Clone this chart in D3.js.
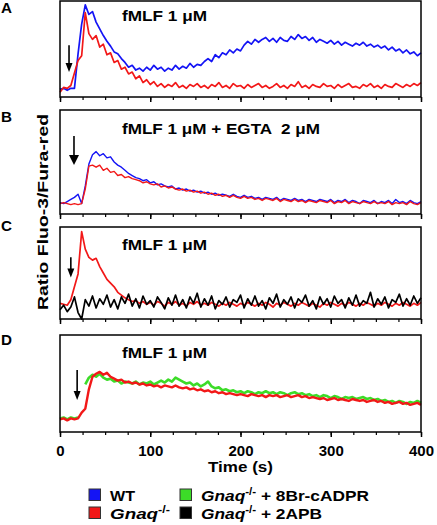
<!DOCTYPE html>
<html><head><meta charset="utf-8">
<script src="https://cdn.jsdelivr.net/npm/d3@7"></script>
<style>
body{margin:0;background:#fff}
svg{display:block}
text{font-family:"Liberation Sans",Arial,Helvetica,sans-serif;font-weight:bold;fill:#000}
</style>
</head><body>
<svg id="c" width="437" height="525"></svg>
<script>
// ---------- DATA ----------
const time = d3.range(0, 401, 4); // sampling grid, seconds
const panelLetters = ["A", "B", "C", "D"];
const panelTitles = ["fMLF 1 \u03bcM", "fMLF 1 \u03bcM + EGTA  2 \u03bcM", "fMLF 1 \u03bcM", "fMLF 1 \u03bcM"];
const xMajorTicks = [0, 100, 200, 300, 400];
const xMinorTicks = [0,25,50,75,100,125,150,175,200,225,250,275,300,325,350,375,400];
const xLabel = "Time (s)";
const yLabel = "Ratio Fluo-3/Fura-red";

// Panel A (relative ratio units, 0-100 of panel range)
const wtA = [8,9,7,9,9,45,76,96,86,89,78,71,64,58,53,47,45,40,36,31,33,28,30,27,31,28,33,29,31,27,30,28,33,29,32,30,35,31,34,33,37,40,37,44,41,46,44,49,46,50,48,54,58,55,60,57,60,62,58,61,57,62,59,58,63,60,65,61,63,59,62,57,60,58,56,59,55,58,54,57,55,53,56,54,57,53,55,52,54,51,53,49,52,48,50,46,49,45,47,43,46];
const gnaqA = [5,10,9,12,25,38,43,88,66,60,64,52,55,44,46,36,38,29,31,24,26,19,22,15,18,13,16,11,14,10,13,11,15,10,12,9,13,11,14,10,12,9,13,11,15,10,12,9,14,11,12,9,13,10,12,14,10,12,9,11,14,10,12,9,13,11,16,10,12,9,13,11,10,14,11,12,9,13,10,12,14,10,11,9,13,11,14,10,12,9,13,11,10,14,12,10,13,11,14,12,15];
// Panel B
const wtB = [11,10,12,14,16,19,10,27,48,57,60,56,58,54,55,50,47,45,42,39,37,35,34,32,33,30,31,28,29,27,26,27,24,25,23,24,22,23,21,22,20,21,19,20,18,19,18,17,19,17,16,18,16,17,15,16,14,16,15,14,16,13,15,14,13,15,13,14,12,14,13,12,14,13,12,14,11,13,12,14,11,13,12,10,13,12,11,13,10,12,11,13,10,14,11,12,10,13,11,10,12];
const gnaqB = [10,11,10,9,10,9,10,24,46,47,45,47,42,44,40,41,37,38,35,36,34,33,32,30,31,29,28,29,26,27,25,26,24,23,24,22,23,21,22,20,21,19,20,18,19,17,18,16,18,16,15,17,15,16,14,15,13,15,14,13,15,12,14,13,12,14,12,13,11,13,12,11,13,12,11,13,10,12,11,13,10,12,11,10,12,11,10,12,10,11,10,12,9,11,10,11,9,12,10,9,11];
// Panel C
const gnaqC = [17,16,15,21,35,49,95,76,67,64,66,57,50,43,39,35,29,26,23,21,19,20,17,19,16,18,15,19,17,14,18,16,19,15,17,14,18,16,19,15,17,15,18,16,14,17,15,18,16,14,17,15,18,16,14,17,15,18,16,13,17,15,18,16,14,17,15,18,16,14,17,15,13,17,15,18,16,14,17,15,18,16,14,17,15,18,16,14,17,15,18,16,14,17,15,18,16,14,17,15,18];
const apbC = [10,15,8,13,24,7,0,21,14,25,12,22,16,26,13,21,11,24,17,27,14,22,12,25,16,20,13,24,18,11,23,15,26,14,21,12,24,17,28,13,22,15,25,11,20,16,24,13,21,18,26,12,22,15,25,14,20,11,23,17,27,13,21,16,24,12,22,18,26,14,20,11,24,16,22,13,25,17,21,12,23,15,26,14,20,17,29,13,22,16,24,12,21,18,27,14,22,15,25,17,23];
// Panel D
const brD = [14,15,13,15,14,15,null,49,56,59,57,60,56,54,55,52,53,50,52,51,50,52,49,51,50,52,49,51,53,51,54,52,56,54,52,50,51,48,50,47,49,52,47,45,46,43,44,42,43,41,42,40,42,41,39,41,40,42,40,41,39,41,40,38,40,41,39,40,38,39,37,38,36,38,37,35,37,36,34,36,35,36,34,35,36,34,35,33,34,32,33,31,32,30,32,31,29,31,30,32,30];
const gnaqD = [13,14,12,14,13,14,20,24,44,57,60,62,59,61,57,55,53,54,51,52,50,51,49,50,48,49,47,48,46,48,47,46,48,46,45,46,44,45,43,44,42,43,41,42,40,41,39,40,39,38,39,38,37,39,38,37,38,36,38,37,38,36,37,38,36,37,38,36,37,35,36,35,34,35,33,34,35,33,34,33,32,34,33,32,33,31,32,33,31,32,30,31,29,30,31,29,30,28,29,30,28];

// Stimulus arrows (time s, from value, to value)
const arrowTime = [10, 15.5, 12, 19];
const arrowFrom = [54, 75, 67, 64];
const arrowTo = [26, 47, 45, 33];

// Legend
const legendColors = ["#1414f5", "#f21818", "#3cdc28", "#000000"];
const legendNames = ["WT", "Gnaq", "Gnaq", "Gnaq"];
const legendSup = ["", "-/-", "-/-", "-/-"];
const legendSuffix = ["", "", " + 8Br-cADPR", " + 2APB"];

// ---------- DRAW ----------
const BLUE = legendColors[0], RED = legendColors[1], GREEN = legendColors[2], BLACK = legendColors[3];
const svg = d3.select("#c");
const x = d3.scaleLinear().domain([0, 400]).range([60, 421]);

const panels = [
  {top: 1, bottom: 97, series: [[wtA, BLUE, 1.7], [gnaqA, RED, 1.7]], titleY: 20.5, titleW: 85, letterY: 13},
  {top: 110, bottom: 214, series: [[wtB, BLUE, 1.4], [gnaqB, RED, 1.4]], titleY: 134, titleW: 198, letterY: 122},
  {top: 227, bottom: 319, series: [[gnaqC, RED, 1.7], [apbC, BLACK, 1.7]], titleY: 250, titleW: 85, letterY: 231},
  {top: 335, bottom: 432, series: [[brD, GREEN, 2.6], [gnaqD, RED, 2.4]], titleY: 358, titleW: 85, letterY: 345}
];

panels.forEach((p, i) => {
  const y = d3.scaleLinear().domain([0, 100]).range([p.bottom, p.top]);
  const g = svg.append("g");

  // series
  p.series.forEach(([vals, col, w]) => {
    const line = d3.line()
      .defined((d, j) => vals[j] !== null)
      .x((d, j) => x(time[j]))
      .y((d, j) => y(vals[j]));
    g.append("path").datum(vals)
      .attr("d", line)
      .attr("fill", "none")
      .attr("stroke", col)
      .attr("stroke-width", w)
      .attr("stroke-linejoin", "round");
  });

  // frame
  g.append("rect")
    .attr("x", x(0)).attr("y", p.top)
    .attr("width", x(400) - x(0)).attr("height", p.bottom - p.top)
    .attr("fill", "none").attr("stroke", "#000").attr("stroke-width", 1.5);

  // ticks
  const minor = d3.axisBottom(x).tickValues(xMinorTicks).tickSize(3).tickSizeOuter(0).tickFormat("");
  const gm = g.append("g").attr("transform", `translate(0,${p.bottom})`).call(minor);
  gm.select(".domain").remove();
  gm.selectAll("line").attr("stroke-width", 1.2);
  const major = d3.axisBottom(x).tickValues(xMajorTicks).tickSize(5).tickSizeOuter(0).tickPadding(8)
    .tickFormat(i === 3 ? d3.format("d") : "");
  const gM = g.append("g").attr("transform", `translate(0,${p.bottom})`).call(major);
  gM.select(".domain").remove();
  gM.selectAll("line").attr("stroke-width", 1.5);
  gM.selectAll("text").attr("font-size", 15).attr("font-family", null).attr("fill", "#000");

  // arrow
  const ax = x(arrowTime[i]), y0 = y(arrowFrom[i]), y1 = y(arrowTo[i]);
  const hw = i === 1 ? 5 : 3.5, hl = i === 1 ? 10 : 9;
  g.append("line").attr("x1", ax).attr("x2", ax).attr("y1", y0).attr("y2", y1 - hl + 1)
    .attr("stroke", "#000").attr("stroke-width", 1.6);
  g.append("path")
    .attr("d", `M${ax - hw},${y1 - hl}L${ax + hw},${y1 - hl}L${ax},${y1}Z`)
    .attr("fill", "#000");

  // title
  g.append("text").attr("x", 122).attr("y", p.titleY)
    .attr("font-size", 14).style("white-space", "pre")
    .attr("textLength", p.titleW).attr("lengthAdjust", "spacingAndGlyphs")
    .text(panelTitles[i]);

  // letter
  g.append("text").attr("x", 1).attr("y", p.letterY).attr("font-size", 14)
    .attr("textLength", 11).attr("lengthAdjust", "spacingAndGlyphs")
    .text(panelLetters[i]);
});

// x label
svg.append("text").attr("x", x(200)).attr("y", 472).attr("text-anchor", "middle")
  .attr("font-size", 15).attr("textLength", 65).attr("lengthAdjust", "spacingAndGlyphs")
  .text(xLabel);

// y label
svg.append("text").attr("transform", "translate(48,212) rotate(-90)")
  .attr("text-anchor", "middle").attr("font-size", 15)
  .attr("textLength", 196).attr("lengthAdjust", "spacingAndGlyphs")
  .text(yLabel);

// legend
const legX = [89, 180], legY = [489, 507], legTextW = [25, 60, 168, 121];
const legOrder = [[0, 0, 0], [1, 0, 1], [2, 1, 0], [3, 1, 1]]; // idx, col, row
legOrder.forEach(([k, c, r]) => {
  svg.append("rect").attr("x", legX[c]).attr("y", legY[r]).attr("width", 11.5).attr("height", 11.5)
    .attr("fill", legendColors[k]).attr("stroke", "#333").attr("stroke-width", 1);
  const t = svg.append("text").attr("x", legX[c] + 21).attr("y", legY[r] + 12)
    .attr("font-size", 15).style("white-space", "pre")
    .attr("textLength", legTextW[k]).attr("lengthAdjust", "spacingAndGlyphs");
  if (legendSup[k] === "") {
    t.text(legendNames[k]);
  } else {
    t.append("tspan").attr("font-style", "italic").text(legendNames[k]);
    t.append("tspan").attr("font-size", 10).attr("dy", -6).text(legendSup[k]);
    if (legendSuffix[k]) t.append("tspan").attr("dy", 6).text(legendSuffix[k]);
  }
});
</script>
</body></html>
